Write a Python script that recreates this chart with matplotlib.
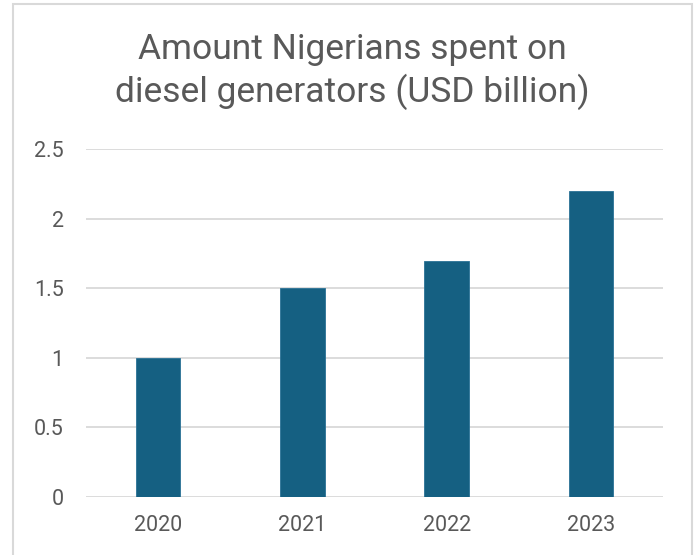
import matplotlib
matplotlib.use("Agg")
import matplotlib.pyplot as plt
from matplotlib.patches import Rectangle

years = ["2020", "2021", "2022", "2023"]
spend_usd_bn = [1.0, 1.5, 1.7, 2.2]
y_ticks = [0, 0.5, 1, 1.5, 2, 2.5]
y_tick_labels = ["0", "0.5", "1", "1.5", "2", "2.5"]

plt.rcParams["font.family"] = ["Roboto", "DejaVu Sans"]

W, H = 694, 555
fig = plt.figure(figsize=(W / 100, H / 100), dpi=100)
fig.patch.set_facecolor("white")

# chart frame
fig.add_artist(Rectangle((13 / W, -0.05), (692 - 13) / W, (H - 4) / H + 0.05,
                         transform=fig.transFigure, fill=False,
                         edgecolor="#d9d9d9", linewidth=1.5))

ax = fig.add_axes([86 / W, 1 - 496.8 / H, (663 - 86) / W, (496.8 - 149.3) / H])
x = range(len(years))
ax.bar(x, spend_usd_bn, width=0.31, color="#156082", edgecolor="#2a7196",
       linewidth=0.6, zorder=3)
ax.set_xlim(-0.5, len(years) - 0.5)
ax.set_ylim(0, 2.5)
ax.set_yticks(y_ticks)
ax.set_yticklabels(y_tick_labels)
ax.set_xticks(list(x))
ax.set_xticklabels(years)
for s in ax.spines.values():
    s.set_visible(False)
ax.grid(axis="y", color="#d9d9d9", linewidth=1.3, zorder=0)
ax.tick_params(axis="both", length=0, labelsize=15.5, colors="#595959")
ax.tick_params(axis="y", pad=16)
ax.tick_params(axis="x", pad=13)

fig.text(352 / W, 1 - 59 / H, "Amount Nigerians spent on", ha="center",
         va="baseline", fontsize=25.5, color="#595959")
fig.text(352 / W, 1 - 102 / H, "diesel generators (USD billion)", ha="center",
         va="baseline", fontsize=25.5, color="#595959")

fig.savefig("out.png", dpi=100)
